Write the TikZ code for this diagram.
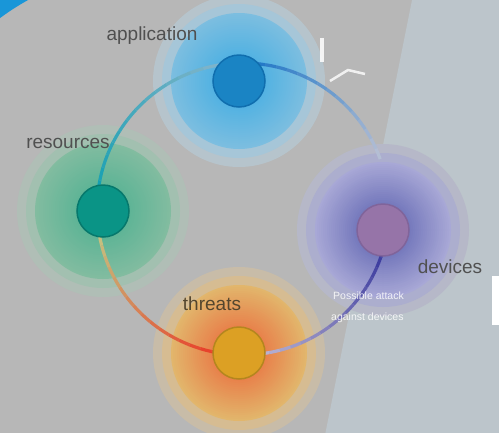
\documentclass[tikz,border=0pt]{standalone}
\usepackage{fontspec}
\setmainfont{Liberation Sans}
\usetikzlibrary{calc}
\definecolor{bgL}{HTML}{B7B7B7}
\definecolor{bgR}{HTML}{BCC5CB}
\definecolor{cornerblue}{HTML}{1996D8}
% glows
\definecolor{appHaloO}{HTML}{B6C4CC}
\definecolor{appHaloI}{HTML}{A6C6D8}
\definecolor{appEdge}{HTML}{7CBEE0}
\definecolor{appIn}{HTML}{52B2E2}
\definecolor{resHaloO}{HTML}{B0BEB6}
\definecolor{resHaloI}{HTML}{A2C0B0}
\definecolor{resEdge}{HTML}{82BCA0}
\definecolor{resIn}{HTML}{5EB496}
\definecolor{devHaloO}{HTML}{B6B8C8}
\definecolor{devHaloI}{HTML}{ACAECE}
\definecolor{devEdge}{HTML}{A8A8D6}
\definecolor{devIn}{HTML}{7478BC}
\definecolor{thrHaloO}{HTML}{C8BCA8}
\definecolor{thrHaloI}{HTML}{D6BC92}
\definecolor{thrEdge}{HTML}{E2B66C}
\definecolor{thrIn}{HTML}{E8804A}
% cores
\definecolor{appCore}{HTML}{1A84C4}
\definecolor{appRim}{HTML}{106EAE}
\definecolor{resCore}{HTML}{0A9486}
\definecolor{resRim}{HTML}{06786C}
\definecolor{devCore}{HTML}{9674A8}
\definecolor{devRim}{HTML}{80649A}
\definecolor{thrCore}{HTML}{DCA024}
\definecolor{thrRim}{HTML}{B4861E}
% ring
\definecolor{segTeal}{HTML}{16A0B2}
\definecolor{segTealEnd}{HTML}{8CB6CC}
\definecolor{segBlue}{HTML}{1A74C6}
\definecolor{segBlueEnd}{HTML}{B4BED4}
\definecolor{segInd}{HTML}{36369C}
\definecolor{segIndEnd}{HTML}{B8B2D2}
\definecolor{segRed}{HTML}{EA3A26}
\definecolor{segTan}{HTML}{C6BE7E}
\definecolor{lblgray}{HTML}{505050}
\definecolor{lblbrown}{HTML}{54462E}

\newcommand\glowat[5]{%
  \fill[#2] (#1) circle[radius=86pt];
  \fill[#3] (#1) circle[radius=77pt];
  \foreach \rr in {68,66,...,26}{%
    \pgfmathtruncatemacro\pp{100*(\rr-26)/42}%
    \fill[#4!\pp!#5] (#1) circle[radius=\rr pt];
  }}
\newcommand\ringarc[4]{%
  \foreach \ii in {0,...,15}{%
    \pgfmathsetmacro\aa{#1+(#2-#1)*\ii/16}%
    \pgfmathsetmacro\dd{(#2-#1)/16}%
    \pgfmathtruncatemacro\pp{100-100*\ii/15}%
    \draw[ringline, draw=#3!\pp!#4] (ring) ++(\aa:146) arc[start angle=\aa, delta angle=\dd, radius=146];
  }}

\begin{document}
\begin{tikzpicture}[x=1pt,y=-1pt,
  core/.style={circle, minimum size=52pt, inner sep=0pt, line width=1.5pt},
  ringline/.style={line width=3.2pt, line cap=butt},
  lbl/.style={font=\fontsize{19}{22}\selectfont, text=lblgray, inner sep=0pt},
  note/.style={font=\fontsize{10.5}{12}\selectfont, text=white, inner sep=0pt, anchor=west, opacity=0.85}]
\useasboundingbox (0,0) rectangle (499,432);
\clip (0,0) rectangle (499,432);
\fill[bgL] (-5,-5) rectangle (505,440);
\fill[bgR] (413,-5) -- (505,-5) -- (505,440) -- (324,440) -- cycle;
\begin{scope}
  \clip (-5,-5) rectangle (60,60);
  \fill[cornerblue, even odd rule] (-20,-20) rectangle (90,90) (150,220.6) circle[radius=252];
\end{scope}
\fill[white] (492,276) rectangle (505,325);

\coordinate (ring) at (243,209);
\coordinate (cApp) at (239,81);
\coordinate (cRes) at (103,211);
\coordinate (cDev) at (383,230);
\coordinate (cThr) at (239,353);

\glowat{cApp}{appHaloO}{appHaloI}{appEdge}{appIn}
\glowat{cRes}{resHaloO}{resHaloI}{resEdge}{resIn}
\glowat{cDev}{devHaloO}{devHaloI}{devEdge}{devIn}
\glowat{cThr}{thrHaloO}{thrHaloI}{thrEdge}{thrIn}

\ringarc{186}{270}{segTeal}{segTealEnd}
\ringarc{270}{340}{segBlue}{segBlueEnd}
\ringarc{15}{84}{segInd}{segIndEnd}
\ringarc{98}{170}{segRed}{segTan}

\node[core, fill=appCore, draw=appRim] (app) at (cApp) {};
\node[core, fill=resCore, draw=resRim] (res) at (cRes) {};
\node[core, fill=devCore, draw=devRim] (dev) at (cDev) {};
\node[core, fill=thrCore, draw=thrRim] (thr) at (cThr) {};

\node[lbl] (appL) at (152,36) {application};
\node[lbl] (resL) at (68,143) {resources};
\node[lbl] (devL) at (450,267) {devices};
\node[lbl, text=lblbrown] (thrL) at (212,304) {threats};

\node[note] (n1) at (333,296) {Possible attack};
\node[note] (n2) at (331,318) {against devices};

\draw[white, opacity=0.85, line width=3.5pt] (322,38) -- (322,62);
\draw[white, opacity=0.8, line width=2.5pt, line join=round] (330,81) -- (348,70) -- (365,74);
\end{tikzpicture}
\end{document}
